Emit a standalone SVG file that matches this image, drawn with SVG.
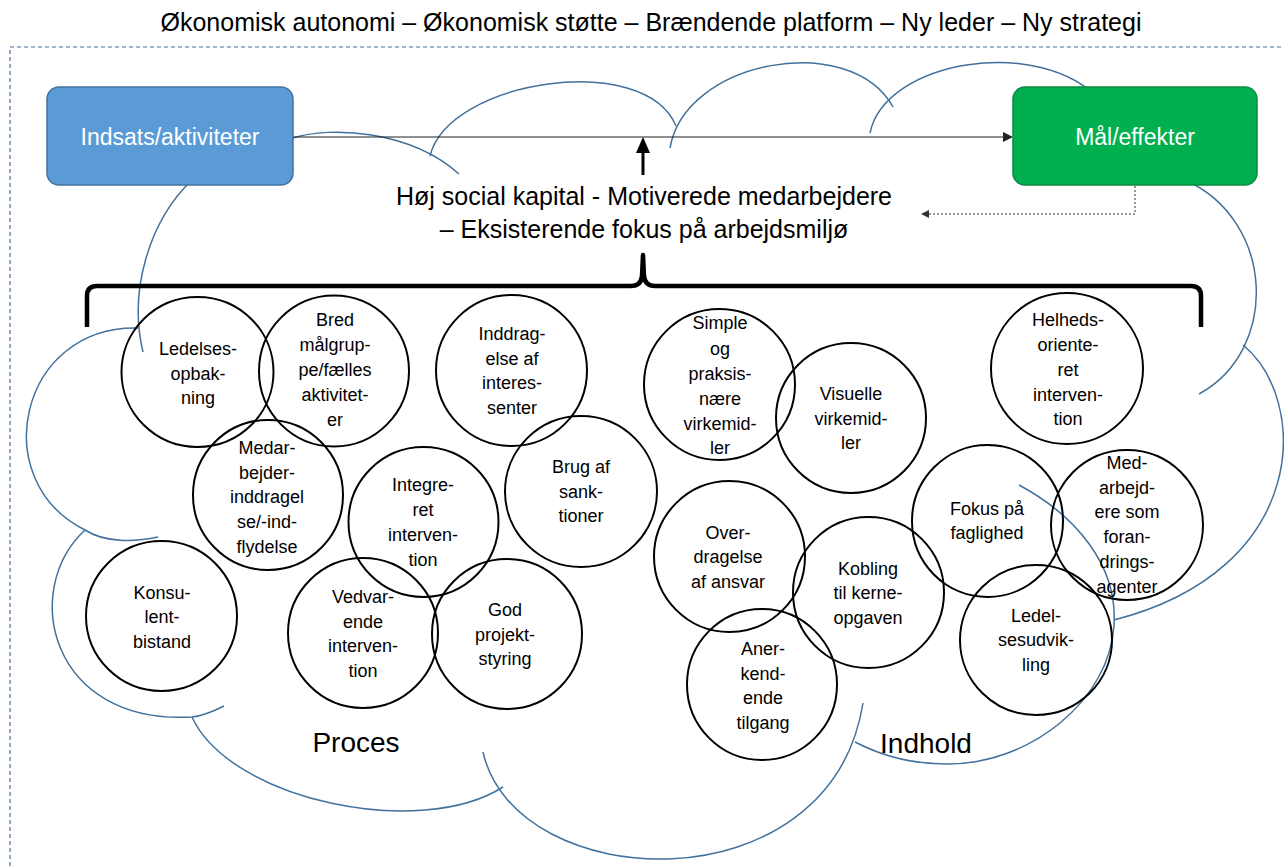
<svg xmlns="http://www.w3.org/2000/svg" width="1284" height="866" viewBox="0 0 1284 866">
<defs>
<style>
.cloud{fill:none;stroke:#41719C;stroke-width:1.5}
.c{fill:none;stroke:#000;stroke-width:2}
.t{font-family:"Liberation Sans",Arial,sans-serif;font-size:18px;fill:#000;text-anchor:middle}
.big{font-family:"Liberation Sans",Arial,sans-serif;font-size:25px;fill:#000;text-anchor:middle}
.lbl{font-family:"Liberation Sans",Arial,sans-serif;font-size:28px;fill:#000;text-anchor:middle}
.btxt{font-family:"Liberation Sans",Arial,sans-serif;font-size:23px;fill:#fff;text-anchor:middle}
</style>
</defs>
<rect width="1284" height="866" fill="#fff"/>
<text class="big" x="651" y="31">Økonomisk autonomi – Økonomisk støtte – Brændende platform – Ny leder – Ny strategi</text>
<path d="M10,866 L10,47 L1284,47" fill="none" stroke="#41719C" stroke-width="1.2" stroke-dasharray="4 3"/>
<g id="cloud">
<path class="cloud" d="M293,138 C330,126 410,130 459,174"/>
<path class="cloud" d="M430,156 C448,80 645,50 676,126"/>
<path class="cloud" d="M670,148 C685,60 850,30 893,107"/>
<path class="cloud" d="M870,133 C885,60 1040,35 1100,100"/>
<path class="cloud" d="M1185,180 C1275,220 1280,350 1199,394"/>
<path class="cloud" d="M1243,345 C1310,400 1310,570 1114,620"/>
<path class="cloud" d="M1019,485 C1075,515 1118,565 1114,625 C1110,700 1030,765 946,764 C910,764 880,755 855,742"/>
<path class="cloud" d="M483,752 C515,895 830,910 863,703"/>
<path class="cloud" d="M192,717 C230,800 420,840 503,787"/>
<path class="cloud" d="M85,530 C20,590 50,725 192,717 C203,716 214,711 224,706"/>
<path class="cloud" d="M138,328 C20,325 -15,480 85,530 C105,543 135,542 158,537"/>
<path class="cloud" d="M192,180 C150,220 128,290 143,352"/>
</g>
<g id="connectors">
<line x1="293" y1="137" x2="1004" y2="137" stroke="#222" stroke-width="1.2"/>
<polygon points="1003,132 1013,137 1003,142" fill="#222"/>
<line x1="643" y1="175" x2="643" y2="150" stroke="#000" stroke-width="3"/>
<polygon points="636,153 643,137 650,153" fill="#000"/>
<path d="M1135,186 L1135,214 L928,214" fill="none" stroke="#333" stroke-width="1" stroke-dasharray="2 2"/>
<polygon points="929,210 921,214 929,218" fill="#333"/>
<path d="M87,327 L87,296 Q87,286 97,286 L631,286 Q641,286 642,276 L643,255 L644,276 Q645,286 655,286 L1191,286 Q1201,286 1201,296 L1201,327" fill="none" stroke="#000" stroke-width="4.5" stroke-linejoin="round"/>
</g>
<g id="indsats">
<rect x="47" y="87" width="246" height="98" rx="12" fill="#5B9BD5" stroke="#41719C" stroke-width="1.5"/>
<text class="btxt" x="170" y="145">Indsats/aktiviteter</text>
</g>
<g id="maal">
<rect x="1013" y="87" width="244" height="98" rx="12" fill="#00B050" stroke="#0A8A3E" stroke-width="1.5"/>
<text class="btxt" x="1135" y="145">Mål/effekter</text>
</g>
<g id="kapital">
<text class="big" x="644" y="205">Høj social kapital - Motiverede medarbejdere</text>
<text class="big" x="644" y="238">– Eksisterende fokus på arbejdsmiljø</text>
</g>
<g id="n1"><ellipse class="c" cx="197.5" cy="372" rx="76" ry="75"/>
<text class="t" x="198"><tspan x="198" y="355">Ledelses-</tspan><tspan x="198" y="380">opbak-</tspan><tspan x="198" y="404">ning</tspan></text></g>
<g id="n2"><ellipse class="c" cx="334" cy="371" rx="75" ry="75.5"/>
<text class="t"><tspan x="335" y="326">Bred</tspan><tspan x="335" y="351">målgrup-</tspan><tspan x="335" y="376">pe/fælles</tspan><tspan x="335" y="401">aktivitet-</tspan><tspan x="335" y="426">er</tspan></text></g>
<g id="n3"><ellipse class="c" cx="268" cy="495" rx="75" ry="75"/>
<text class="t"><tspan x="267" y="454">Medar-</tspan><tspan x="267" y="479">bejder-</tspan><tspan x="267" y="503">inddragel</tspan><tspan x="267" y="528">se/-ind-</tspan><tspan x="267" y="553">flydelse</tspan></text></g>
<g id="n4"><ellipse class="c" cx="423.5" cy="522" rx="75" ry="75"/>
<text class="t"><tspan x="423" y="491">Integre-</tspan><tspan x="423" y="516">ret</tspan><tspan x="423" y="541">interven-</tspan><tspan x="423" y="566">tion</tspan></text></g>
<g id="n5"><ellipse class="c" cx="511.5" cy="370.5" rx="75.5" ry="75.5"/>
<text class="t"><tspan x="512" y="340">Inddrag-</tspan><tspan x="512" y="365">else af</tspan><tspan x="512" y="389">interes-</tspan><tspan x="512" y="414">senter</tspan></text></g>
<g id="n6"><ellipse class="c" cx="581" cy="491.5" rx="76" ry="75.5"/>
<text class="t"><tspan x="581" y="473">Brug af</tspan><tspan x="581" y="498">sank-</tspan><tspan x="581" y="522">tioner</tspan></text></g>
<g id="n7"><ellipse class="c" cx="719.5" cy="384.5" rx="75.5" ry="75.5"/>
<text class="t"><tspan x="720" y="329">Simple</tspan><tspan x="720" y="355">og</tspan><tspan x="720" y="380">praksis-</tspan><tspan x="720" y="405">nære</tspan><tspan x="720" y="430">virkemid-</tspan><tspan x="720" y="454">ler</tspan></text></g>
<g id="n8"><ellipse class="c" cx="851" cy="418" rx="75" ry="75"/>
<text class="t"><tspan x="851" y="400">Visuelle</tspan><tspan x="851" y="425">virkemid-</tspan><tspan x="851" y="449">ler</tspan></text></g>
<g id="n9"><ellipse class="c" cx="1067" cy="368.5" rx="76" ry="75.5"/>
<text class="t"><tspan x="1068" y="326">Helheds-</tspan><tspan x="1068" y="351">oriente-</tspan><tspan x="1068" y="376">ret</tspan><tspan x="1068" y="401">interven-</tspan><tspan x="1068" y="425">tion</tspan></text></g>
<g id="n10"><ellipse class="c" cx="987.5" cy="521" rx="75.5" ry="76"/>
<text class="t"><tspan x="987" y="515">Fokus på</tspan><tspan x="987" y="539">faglighed</tspan></text></g>
<g id="n11"><ellipse class="c" cx="1127" cy="525" rx="76" ry="75"/>
<text class="t"><tspan x="1127" y="469">Med-</tspan><tspan x="1127" y="494">arbejd-</tspan><tspan x="1127" y="518">ere som</tspan><tspan x="1127" y="543">foran-</tspan><tspan x="1127" y="568">drings-</tspan><tspan x="1127" y="593">agenter</tspan></text></g>
<g id="n12"><ellipse class="c" cx="1036" cy="640" rx="76" ry="75"/>
<text class="t"><tspan x="1036" y="622">Ledel-</tspan><tspan x="1036" y="646">sesudvik-</tspan><tspan x="1036" y="671">ling</tspan></text></g>
<g id="n13"><ellipse class="c" cx="729.5" cy="556.5" rx="75.5" ry="75.5"/>
<text class="t"><tspan x="728" y="539">Over-</tspan><tspan x="728" y="563">dragelse</tspan><tspan x="728" y="588">af ansvar</tspan></text></g>
<g id="n14"><ellipse class="c" cx="868.5" cy="592.5" rx="75.5" ry="75.5"/>
<text class="t"><tspan x="868" y="575">Kobling</tspan><tspan x="868" y="599">til kerne-</tspan><tspan x="868" y="624">opgaven</tspan></text></g>
<g id="n15"><ellipse class="c" cx="762" cy="684.5" rx="75" ry="75.5"/>
<text class="t"><tspan x="763" y="655">Aner-</tspan><tspan x="763" y="680">kend-</tspan><tspan x="763" y="704">ende</tspan><tspan x="763" y="729">tilgang</tspan></text></g>
<g id="n16"><ellipse class="c" cx="161.5" cy="616" rx="75.5" ry="75"/>
<text class="t"><tspan x="162" y="599">Konsu-</tspan><tspan x="162" y="623">lent-</tspan><tspan x="162" y="648">bistand</tspan></text></g>
<g id="n17"><ellipse class="c" cx="363" cy="633" rx="75" ry="75"/>
<text class="t"><tspan x="363" y="603">Vedvar-</tspan><tspan x="363" y="628">ende</tspan><tspan x="363" y="652">interven-</tspan><tspan x="363" y="677">tion</tspan></text></g>
<g id="n18"><ellipse class="c" cx="507" cy="634" rx="75" ry="75"/>
<text class="t"><tspan x="505" y="616">God</tspan><tspan x="505" y="641">projekt-</tspan><tspan x="505" y="665">styring</tspan></text></g>
<g id="proces"><text class="lbl" x="356" y="752">Proces</text></g>
<g id="indhold"><text class="lbl" x="926" y="753">Indhold</text></g>
</svg>
